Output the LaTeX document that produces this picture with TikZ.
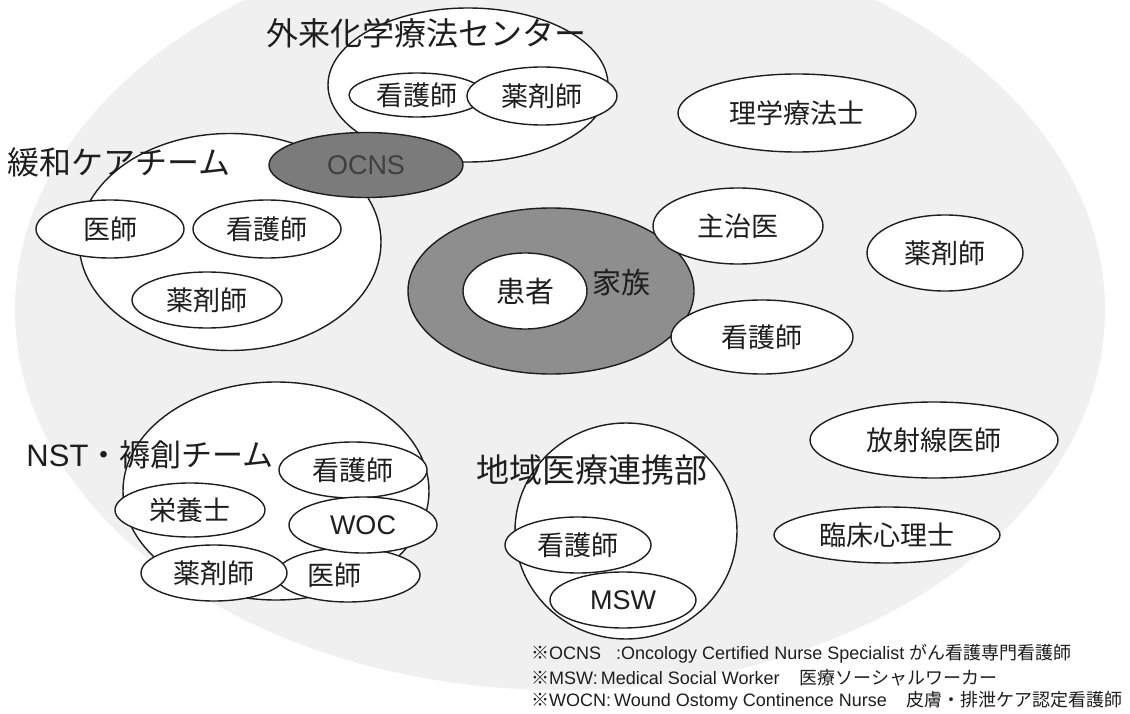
\documentclass[tikz,border=0pt]{standalone}
\usepackage{fontspec}
\setmainfont{Noto Sans CJK JP}
\newfontfamily\lat{Liberation Sans}
\usetikzlibrary{shapes.geometric}
\definecolor{bgray}{HTML}{F0F0F0}
\definecolor{famgray}{HTML}{8E8E8E}
\definecolor{ocgray}{HTML}{7B7B7B}
\definecolor{ink}{HTML}{1E1E1E}
\tikzset{
  grp/.style={ellipse, draw=ink, line width=1.4pt, fill=white, inner sep=0pt},
  role/.style={ellipse, draw=ink, line width=1.4pt, fill=white, inner sep=0pt, text=ink, font=\fontsize{27}{30}\selectfont},
  ttl/.style={inner sep=0pt, text=ink, font=\fontsize{32}{36}\selectfont},
  note/.style={inner sep=0pt, anchor=west, text=ink, font=\fontsize{18}{20}\selectfont},
  sz/.style 2 args={minimum width=#1pt, minimum height=#2pt},
}
\begin{document}
\begin{tikzpicture}[x=1pt, y=-1pt]
\useasboundingbox (0,0) rectangle (1130,714);
\clip (0,0) rectangle (1130,714);
\fill[white] (0,0) rectangle (1130,714);
\fill[bgray] (560,310) ellipse [x radius=545pt, y radius=380pt];

% ---- group outlines
\node[grp, sz={280}{154}] (gairai) at (468,85) {};
\node[grp, sz={302}{217}] (kanwa) at (230,242) {};
\node[grp, sz={306}{218}] (nst) at (276,491) {};
\node[grp, sz={222}{216}] (chiiki) at (626,531) {};

% ---- 外来化学療法センター
\node[role, sz={136}{44}] (g1) at (417,95) {看護師};
\node[role, sz={150}{58}] (g2) at (542,96) {薬剤師};
\node[ttl] (t1) at (426,33) {外来化学療法センター};

% ---- 緩和ケアチーム
\node[role, sz={148}{58}] (k1) at (110,229) {医師};
\node[role, sz={148}{58}] (k2) at (267,229) {看護師};
\node[role, sz={150}{56}] (k3) at (207,300) {薬剤師};
\node[ttl] (t2) at (119,162) {緩和ケアチーム};
\node[ellipse, draw=ink, line width=1.4pt, fill=ocgray, inner sep=0pt, sz={194}{65},
      text={black!75}, font=\fontsize{27}{30}\selectfont\lat] (ocns) at (366,165) {OCNS};

% ---- 患者・家族
\node[ellipse, draw=ink, line width=1.4pt, fill=famgray, inner sep=0pt, sz={286}{166}] (fam) at (551,291) {};
\node[inner sep=0pt, text=ink, font=\fontsize{29}{32}\selectfont] (famt) at (621,282) {家族};
\node[role, sz={124}{76}, font=\fontsize{29}{32}\selectfont] (pat) at (525,291) {患者};
\node[role, sz={170}{76}] (shuji) at (738,226) {主治医};
\node[role, sz={182}{74}] (kango) at (762,337) {看護師};
\node[role, sz={238}{78}] (rigaku) at (797,113) {理学療法士};
\node[role, sz={156}{76}] (yaku) at (945,253) {薬剤師};
\node[role, sz={248}{76}] (hosha) at (934,440) {放射線医師};
\node[role, sz={226}{56}] (rinsho) at (887,535) {臨床心理士};

% ---- NST・褥創チーム
\node[role, sz={148}{56}] (n1) at (353,470) {看護師};
\node[role, sz={150}{54}] (n2) at (190,510) {栄養士};
\node[role, sz={144}{54}] (n5) at (348,575) {\hspace*{-28pt}医師};
\node[role, sz={148}{56}, font=\fontsize{27}{30}\selectfont\lat] (n3) at (363,525) {WOC};
\node[role, sz={146}{56}] (n4) at (214,573) {薬剤師};
\node[ttl, font=\fontsize{31}{34}\selectfont] (t3) at (150,455) {{\lat NST}・褥創チーム};

% ---- 地域医療連携部
\node[role, sz={146}{56}] (c1) at (578,545) {看護師};
\node[role, sz={146}{56}, font=\fontsize{27}{30}\selectfont\lat] (c2) at (623,600) {MSW};
\node[ttl, font=\fontsize{33}{36}\selectfont] (t4) at (592,470) {地域医療連携部};

% ---- notes
\node[note] (nt1) at (531,654) {※{\lat OCNS\ \ \ :Oncology Certified Nurse Specialist }がん看護専門看護師};
\node[note] (nt2) at (531,678) {※{\lat MSW:\,Medical Social Worker}\hspace{20pt}医療ソーシャルワーカー};
\node[note] (nt3) at (531,701) {※{\lat WOCN:\,Wound Ostomy Continence Nurse}\hspace{20pt}皮膚・排泄ケア認定看護師};
\end{tikzpicture}
\end{document}
